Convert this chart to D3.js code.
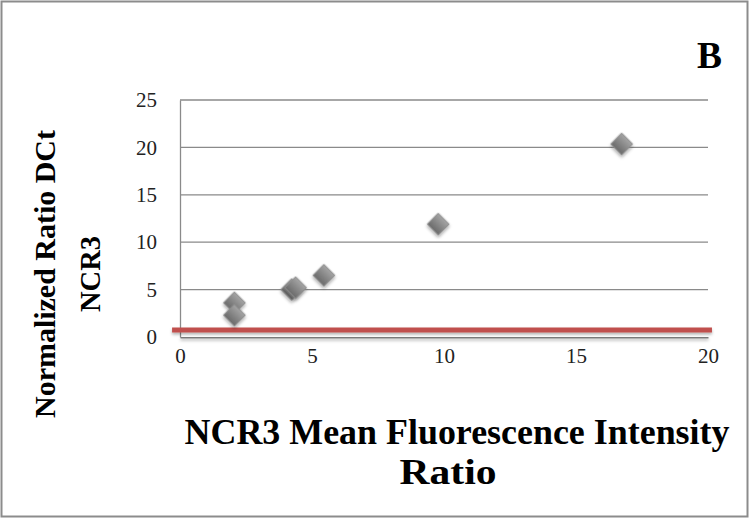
<!DOCTYPE html>
<html>
<head>
<meta charset="utf-8">
<script src="https://cdn.jsdelivr.net/npm/d3@7"></script>
<style>
  body { margin: 0; background: #fff; }
  text { font-family: "Liberation Serif", "DejaVu Serif", serif; }
</style>
</head>
<body>
<script>
// MFI ratio (x) vs normalized DCt ratio (y)
var mfiRatio = [2.06, 2.06, 4.23, 4.38, 5.45, 9.78, 16.73];
var dctRatio = [3.6, 2.3, 5.0, 5.2, 6.5, 11.9, 20.35];
var xTicks = [0, 5, 10, 15, 20];
var yTicks = [0, 5, 10, 15, 20, 25];
// reference line (red) near ratio 1
var refY = 0.75;
var refX = [-0.3, 20.15];

var w = 749, h = 518;
var margin = {left: 180, right: 41, top: 100, bottom: 181};

var svg = d3.select("body").append("svg")
  .attr("width", w)
  .attr("height", h);

var defs = svg.append("defs");
var grad = defs.append("linearGradient")
  .attr("id", "dia").attr("x1", 0).attr("y1", 0).attr("x2", 0).attr("y2", 1);
grad.append("stop").attr("offset", "0%").attr("stop-color", "#a4a4a4");
grad.append("stop").attr("offset", "100%").attr("stop-color", "#6a6a6a");

// line shadow: user space, otherwise a flat line has a zero-height box
var lineShadow = defs.append("filter").attr("id", "lineShadow")
  .attr("filterUnits", "userSpaceOnUse")
  .attr("x", 0).attr("y", 0).attr("width", w).attr("height", h);
lineShadow.append("feDropShadow")
  .attr("dx", 0).attr("dy", 2).attr("stdDeviation", 1.5)
  .attr("flood-color", "#000").attr("flood-opacity", 0.3);

var markShadow = defs.append("filter").attr("id", "markShadow")
  .attr("x", "-60%").attr("y", "-60%").attr("width", "220%").attr("height", "220%");
markShadow.append("feDropShadow")
  .attr("dx", 1.4).attr("dy", 1.4).attr("stdDeviation", 1.6)
  .attr("flood-color", "#000").attr("flood-opacity", 0.35);

// outer frame
svg.append("rect")
  .attr("x", 1.5).attr("y", 1.5)
  .attr("width", w - 3).attr("height", h - 3)
  .attr("fill", "#fff")
  .attr("stroke", "#8c8c8c")
  .attr("stroke-width", 2);

var x = d3.scaleLinear().domain([0, 20]).range([margin.left, w - margin.right]);
var y = d3.scaleLinear().domain([0, 25]).range([h - margin.bottom, margin.top]);

// gridlines
svg.append("g").selectAll("line")
  .data(yTicks.filter(function (d) { return d > 0; }))
  .enter().append("line")
  .attr("x1", x(0)).attr("x2", x(20))
  .attr("y1", function (d) { return y(d); })
  .attr("y2", function (d) { return y(d); })
  .attr("stroke", "#8a8a8a")
  .attr("stroke-width", 1.3);

// y axis
var yAxis = svg.append("g")
  .attr("transform", "translate(" + x(0) + ",0)")
  .call(d3.axisLeft(y).tickValues(yTicks).tickSize(0).tickPadding(23));
yAxis.select(".domain").attr("stroke", "#8a8a8a").attr("stroke-width", 1.3);
yAxis.selectAll("text")
  .attr("font-size", 21)
  .attr("fill", "#222")
  .style("font-family", "'Liberation Serif', serif");

// x axis
var xAxis = svg.append("g")
  .attr("transform", "translate(0," + y(0) + ")")
  .call(d3.axisBottom(x).tickValues(xTicks).tickSize(0).tickPadding(7));
xAxis.select(".domain").attr("stroke", "#7a7a7a").attr("stroke-width", 2)
  .attr("filter", "url(#lineShadow)");
xAxis.selectAll("text")
  .attr("font-size", 21)
  .attr("fill", "#222")
  .attr("dy", "0.9em")
  .style("font-family", "'Liberation Serif', serif");

// red reference line
svg.append("line")
  .attr("x1", x(refX[0])).attr("x2", x(refX[1]))
  .attr("y1", y(refY)).attr("y2", y(refY))
  .attr("stroke", "#c0504d")
  .attr("stroke-width", 5)
  .attr("filter", "url(#lineShadow)");

// diamonds
var pts = mfiRatio.map(function (v, i) { return {x: v, y: dctRatio[i]}; });
svg.append("g").selectAll("path")
  .data(pts)
  .enter().append("path")
  .attr("d", d3.symbol().type(d3.symbolSquare).size(240))
  .attr("transform", function (d) {
    return "translate(" + x(d.x) + "," + y(d.y) + ") rotate(45)";
  })
  .attr("fill", "url(#dia)")
  .attr("stroke", "#8e8e8e")
  .attr("stroke-width", 1)
  .attr("filter", "url(#markShadow)");

// panel letter
svg.append("text")
  .attr("x", 722).attr("y", 68)
  .attr("text-anchor", "end")
  .attr("font-size", 38)
  .attr("font-weight", "bold")
  .attr("textLength", 25)
  .attr("lengthAdjust", "spacingAndGlyphs")
  .text("B");

// x title
svg.append("text")
  .attr("x", 457).attr("y", 444)
  .attr("text-anchor", "middle")
  .attr("font-size", 35)
  .attr("font-weight", "bold")
  .attr("textLength", 545)
  .attr("lengthAdjust", "spacingAndGlyphs")
  .text("NCR3 Mean Fluorescence Intensity");
svg.append("text")
  .attr("x", 448).attr("y", 484)
  .attr("text-anchor", "middle")
  .attr("font-size", 35)
  .attr("font-weight", "bold")
  .attr("textLength", 97)
  .attr("lengthAdjust", "spacingAndGlyphs")
  .text("Ratio");

// y title
var yt = svg.append("g").attr("transform", "translate(55,274) rotate(-90)");
yt.append("text")
  .attr("x", 0).attr("y", 0)
  .attr("text-anchor", "middle")
  .attr("font-size", 30)
  .attr("font-weight", "bold")
  .attr("textLength", 288)
  .attr("lengthAdjust", "spacingAndGlyphs")
  .text("Normalized Ratio DCt");
yt.append("text")
  .attr("x", 0).attr("y", 45)
  .attr("text-anchor", "middle")
  .attr("font-size", 30)
  .attr("font-weight", "bold")
  .attr("textLength", 76)
  .attr("lengthAdjust", "spacingAndGlyphs")
  .text("NCR3");
</script>
</body>
</html>
